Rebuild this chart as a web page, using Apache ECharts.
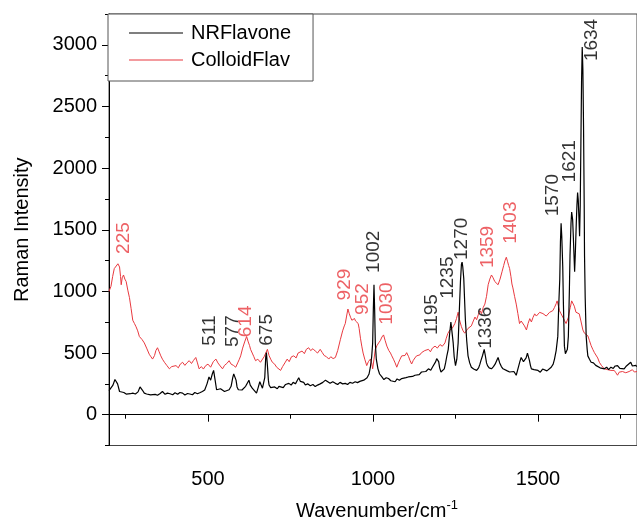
<!DOCTYPE html>
<html>
<head>
<meta charset="utf-8">
<script src="https://cdn.jsdelivr.net/npm/echarts@6/dist/echarts.min.js"></script>
<style>
  html, body { margin: 0; padding: 0; background: #fff; }
  #chart { width: 637px; height: 526px; }
</style>
</head>
<body>
<div id="chart"></div>
<script>
// NRFlavone spectrum [wavenumber, intensity]
const nrFlavone = [
  [200,195],[206,202],[212,240],[218,285],[222,293],[226,250],[232,188],[238,175],[245,180],[252,167],
  [258,178],[265,170],[272,175],[280,168],[288,185],[294,225],[297,241],[301,200],[307,175],[314,168],
  [320,155],[326,160],[332,149],[340,165],[347,158],[355,172],[362,188],[370,165],[377,175],[385,170],
  [393,162],[400,178],[408,165],[415,180],[423,175],[430,160],[438,172],[445,168],[453,162],[460,180],
  [468,170],[475,178],[483,188],[490,200],[497,250],[503,306],[508,280],[513,330],[517,359],[521,290],
  [526,202],[532,195],[538,210],[544,202],[550,188],[556,200],[564,202],[570,230],[575,300],[578,330],
  [581,346],[585,280],[588,225],[592,202],[598,210],[603,200],[609,215],[614,230],[619,255],[624,280],
  [628,240],[634,215],[640,200],[647,175],[652,220],[657,267],[661,240],[665,215],[669,215],[672,300],
  [675,470],[677,503],[680,400],[683,280],[685,241],[690,220],[695,215],[702,225],[710,210],[715,230],
  [720,228],[728,220],[735,245],[740,235],[745,254],[752,240],[758,262],[765,250],[770,275],[775,299],
  [780,270],[786,255],[790,262],[795,241],[802,250],[810,235],[818,245],[825,228],[832,240],[840,250],
  [848,262],[856,280],[862,265],[870,255],[878,268],[886,254],[893,245],[900,262],[908,250],[916,254],
  [923,245],[930,262],[938,255],[946,267],[953,260],[960,270],[966,285],[972,280],[976,293],[982,300],
  [988,330],[992,385],[996,470],[999,582],[1001,850],[1003,1054],[1005,850],[1007,582],[1010,450],[1015,372],
  [1020,330],[1027,306],[1033,285],[1040,300],[1047,293],[1054,275],[1060,285],[1067,267],[1073,290],[1080,280],
  [1087,293],[1093,285],[1100,300],[1107,306],[1113,295],[1120,310],[1127,320],[1133,305],[1140,325],[1147,346],
  [1153,335],[1160,350],[1168,372],[1175,360],[1180,385],[1186,398],[1190,430],[1193,455],[1196,464],[1199,430],
  [1202,380],[1206,346],[1210,355],[1216,372],[1220,420],[1224,480],[1228,530],[1232,650],[1236,752],[1239,680],
  [1243,582],[1246,470],[1250,398],[1254,450],[1258,582],[1261,800],[1265,1080],[1268,1220],[1270,1238],[1272,1200],
  [1275,1106],[1278,900],[1280,766],[1284,600],[1288,477],[1293,420],[1298,385],[1305,370],[1310,355],[1314,359],
  [1320,380],[1324,410],[1327,438],[1332,480],[1337,530],[1341,470],[1344,420],[1347,398],[1352,380],[1359,372],
  [1365,390],[1370,410],[1375,440],[1379,464],[1384,420],[1389,390],[1394,372],[1400,380],[1407,355],[1414,346],
  [1420,340],[1427,350],[1434,320],[1440,380],[1445,430],[1449,464],[1453,450],[1456,430],[1460,425],[1464,460],
  [1468,500],[1470,508],[1474,440],[1477,400],[1480,372],[1488,365],[1494,350],[1500,359],[1507,345],[1514,370],
  [1520,372],[1527,355],[1533,365],[1540,385],[1546,410],[1550,451],[1555,520],[1560,635],[1563,897],[1566,1100],
  [1568,1400],[1570,1552],[1572,1450],[1575,1200],[1577,897],[1580,556],[1583,495],[1586,490],[1589,530],[1592,635],
  [1595,1000],[1597,1290],[1600,1550],[1602,1644],[1605,1580],[1607,1448],[1609,1300],[1611,1159],[1613,1300],[1616,1552],
  [1618,1700],[1620,1802],[1622,1740],[1624,1600],[1626,1448],[1628,1700],[1630,2208],[1632,2700],[1634,2982],[1636,2800],
  [1638,2339],[1640,1700],[1641,1290],[1643,950],[1646,635],[1649,530],[1651,477],[1656,450],[1661,425],[1668,420],
  [1675,400],[1681,398],[1688,380],[1694,390],[1701,372],[1708,385],[1714,365],[1721,385],[1728,375],[1734,395],
  [1741,398],[1748,375],[1754,390],[1761,372],[1768,395],[1774,380],[1781,425],[1786,395],[1791,385],[1796,400],
  [1800,390]
];

// ColloidFlav spectrum [wavenumber, intensity]
const colloidFlav = [
  [200,1000],[206,1041],[211,1120],[216,1185],[222,1200],[227,1224],[232,1198],[235,1120],[237,1054],[240,1110],
  [244,1133],[248,1100],[252,1080],[257,1010],[262,949],[267,860],[272,766],[277,740],[282,713],[287,680],
  [292,634],[300,610],[307,582],[314,540],[322,490],[327,470],[332,451],[338,480],[342,520],[347,543],
  [352,510],[357,477],[362,450],[368,425],[375,400],[383,372],[390,390],[396,375],[403,398],[410,380],
  [416,410],[423,425],[430,400],[436,420],[443,438],[450,415],[456,440],[463,464],[468,420],[473,372],
  [480,390],[486,370],[493,398],[500,410],[508,385],[516,430],[524,451],[530,420],[537,395],[544,372],
  [550,400],[557,415],[564,438],[570,410],[577,400],[584,385],[590,420],[595,450],[599,477],[605,540],
  [611,590],[617,634],[622,590],[626,560],[629,530],[634,500],[639,470],[644,438],[651,450],[659,425],
  [665,440],[670,470],[675,500],[680,530],[685,480],[690,450],[695,425],[702,410],[708,385],[714,370],
  [720,359],[726,390],[733,420],[740,451],[746,430],[753,470],[760,477],[767,460],[773,500],[779,485],
  [785,516],[792,495],[798,530],[805,543],[811,520],[818,535],[825,516],[832,500],[840,530],[846,505],
  [852,480],[859,470],[866,451],[872,470],[879,455],[886,464],[893,520],[901,608],[908,680],[913,720],
  [916,739],[920,800],[924,857],[928,820],[932,790],[936,766],[940,760],[944,780],[947,760],[951,752],
  [955,740],[958,700],[962,620],[966,556],[970,500],[975,450],[981,398],[986,430],[992,451],[996,420],
  [999,372],[1003,450],[1007,530],[1012,560],[1017,582],[1022,600],[1027,630],[1032,647],[1037,600],[1042,556],
  [1048,520],[1053,500],[1057,477],[1062,450],[1067,420],[1072,385],[1077,420],[1082,450],[1087,477],[1092,490],
  [1097,480],[1102,503],[1108,470],[1112,440],[1117,411],[1122,440],[1127,460],[1132,477],[1137,490],[1142,485],
  [1147,503],[1152,490],[1157,520],[1162,510],[1168,530],[1174,510],[1180,540],[1188,556],[1195,540],[1203,569],
  [1210,555],[1218,582],[1222,620],[1227,660],[1233,687],[1240,700],[1248,739],[1253,780],[1258,831],[1263,760],
  [1268,713],[1273,680],[1278,661],[1284,670],[1288,700],[1293,687],[1298,720],[1304,760],[1309,792],[1314,770],
  [1319,810],[1324,844],[1329,820],[1334,870],[1339,897],[1344,960],[1349,1054],[1354,1100],[1359,1133],[1364,1110],
  [1369,1080],[1374,1070],[1379,1054],[1385,1100],[1391,1159],[1396,1210],[1400,1250],[1404,1277],[1408,1240],[1411,1210],
  [1414,1185],[1418,1120],[1421,1060],[1424,1028],[1429,960],[1434,897],[1439,820],[1444,739],[1449,760],[1454,766],
  [1459,720],[1465,687],[1470,740],[1475,779],[1480,752],[1485,790],[1490,818],[1495,800],[1500,792],[1505,830],
  [1510,844],[1515,820],[1520,818],[1525,800],[1530,805],[1535,830],[1540,844],[1545,844],[1550,870],[1555,900],
  [1558,923],[1562,880],[1565,844],[1570,818],[1575,792],[1580,765],[1585,739],[1588,739],[1592,790],[1596,850],
  [1598,871],[1602,923],[1605,923],[1610,880],[1615,831],[1620,830],[1625,818],[1630,760],[1636,687],[1641,660],
  [1646,661],[1651,640],[1656,600],[1661,560],[1666,530],[1671,503],[1676,503],[1681,460],[1686,425],[1692,400],
  [1696,385],[1701,372],[1706,372],[1711,365],[1716,375],[1721,359],[1726,355],[1731,359],[1736,340],[1741,320],
  [1746,345],[1751,330],[1756,350],[1761,359],[1766,340],[1771,333],[1776,350],[1781,346],[1786,365],[1792,346],
  [1796,340],[1800,350]
];

// peak labels [label x, label base y, text]
const blackPeaks = [
  [507,555,'511'],[578,545,'577'],[681,555,'675'],[1003,1146,'1002'],[1181,642,'1195'],
  [1228,936,'1235'],[1270,1251,'1270'],[1342,530,'1336'],[1547,1605,'1570'],[1599,1880,'1621'],
  [1664,2864,'1634']
];
const redPeaks = [
  [245,1300,'225'],[616,624,'614'],[915,923,'929'],[970,805,'952'],[1043,726,'1030'],
  [1350,1185,'1359'],[1418,1382,'1403']
];

const xMajor = [500, 1000, 1500];
const xMinor = [250, 750, 1250, 1750];
const yMajor = [0, 500, 1000, 1500, 2000, 2500, 3000];
const yMinor = [-250, 250, 750, 1250, 1750, 2250, 2750, 3250];

const RED = '#e8393f';
const FONT = 'Liberation Sans, Arial, Helvetica, sans-serif';

const chart = echarts.init(document.getElementById('chart'));

function peakSeries(name, data, color) {
  return {
    name: name,
    type: 'scatter',
    data: data,
    symbolSize: 1,
    itemStyle: { color: 'rgba(0,0,0,0)' },
    silent: true,
    label: {
      show: true,
      formatter: p => p.data[2],
      position: [0, 0],
      rotate: 90,
      align: 'left',
      verticalAlign: 'middle',
      color: color,
      fontFamily: FONT,
      fontSize: 19
    }
  };
}

chart.setOption({
  animation: false,
  textStyle: { fontFamily: FONT },
  grid: {
    left: 109, top: 14, width: 530, height: 445,
    show: true, borderColor: '#444', borderWidth: 1
  },
  legend: {
    data: ['NRFlavone', 'ColloidFlav'],
    orient: 'vertical',
    left: 108, top: 14,
    padding: [9, 22, 11, 21],
    icon: 'rect',
    itemWidth: 54, itemHeight: 1, itemGap: 7,
    backgroundColor: '#fff',
    borderColor: '#555', borderWidth: 1,
    textStyle: { fontSize: 20, color: '#000', fontFamily: FONT, padding: [0, 0, 0, 3] }
  },
  xAxis: [
    {
      type: 'value', min: 200, max: 1800,
      position: 'bottom',
      name: '{a|Wavenumber/cm}{b|-1}',
      nameLocation: 'middle', nameGap: 53,
      nameTextStyle: {
        padding: [0, 0, 0, 8],
        rich: {
          a: { fontSize: 20, color: '#000', fontFamily: FONT },
          b: { fontSize: 13, color: '#000', fontFamily: FONT, padding: [0, 0, 12, 0] }
        }
      },
      splitLine: { show: false },
      axisLine: { lineStyle: { color: '#000', width: 1 } },
      axisTick: { customValues: xMajor, length: 7, lineStyle: { color: '#000' } },
      axisLabel: { customValues: xMajor, fontSize: 20, color: '#000', margin: 24, formatter: v => String(v) }
    },
    {
      type: 'value', min: 200, max: 1800,
      position: 'bottom',
      splitLine: { show: false },
      axisLine: { show: false },
      axisTick: { customValues: xMinor, length: 4, lineStyle: { color: '#000' } },
      axisLabel: { show: false }
    }
  ],
  yAxis: [
    {
      type: 'value', min: -250, max: 3250,
      position: 'left',
      name: 'Raman Intensity',
      nameLocation: 'middle', nameGap: 77,
      nameTextStyle: { fontSize: 20, color: '#000' },
      splitLine: { show: false },
      axisLine: { show: true, lineStyle: { color: '#000', width: 1 } },
      axisTick: { customValues: yMajor, length: 7, lineStyle: { color: '#000' } },
      axisLabel: { customValues: yMajor, fontSize: 20, color: '#000', margin: 12, formatter: v => String(v) }
    },
    {
      type: 'value', min: -250, max: 3250,
      position: 'left',
      splitLine: { show: false },
      axisLine: { show: false },
      axisTick: { show: true, customValues: yMinor, length: 4, lineStyle: { color: '#000' } },
      axisLabel: { show: false }
    }
  ],
  series: [
    {
      name: 'NRFlavone', type: 'line', data: nrFlavone,
      symbol: 'none', lineStyle: { color: '#000', width: 1.2 }, itemStyle: { color: '#000' },
      z: 3
    },
    {
      name: 'ColloidFlav', type: 'line', data: colloidFlav,
      symbol: 'none', lineStyle: { color: RED, width: 1 }, itemStyle: { color: RED },
      z: 2
    },
    peakSeries('blackPeaks', blackPeaks, '#000'),
    peakSeries('redPeaks', redPeaks, RED)
  ]
});
</script>
</body>
</html>
